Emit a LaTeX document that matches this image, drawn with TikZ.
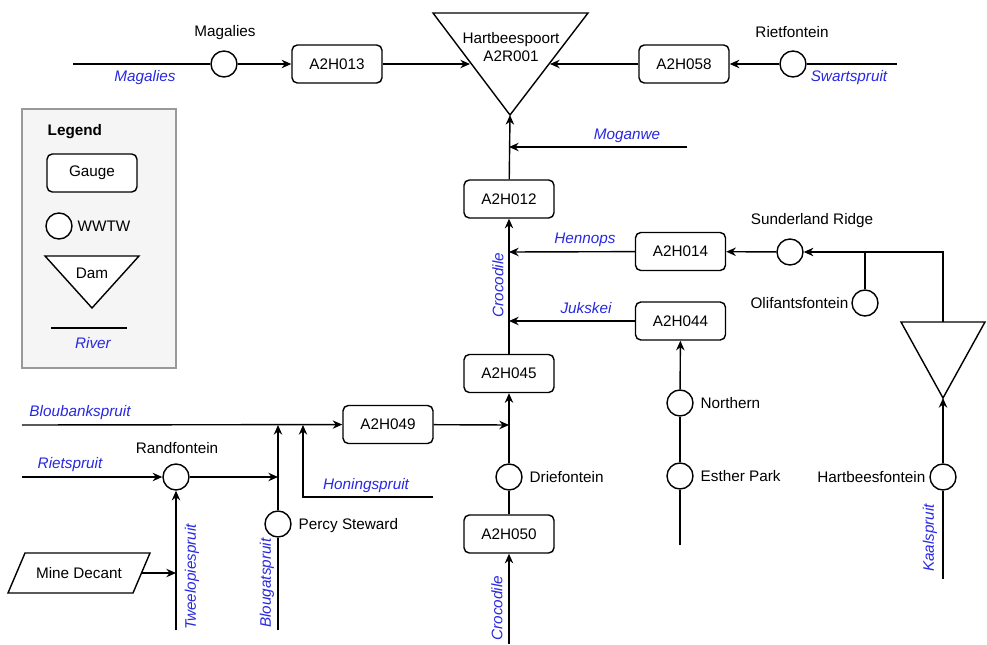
\documentclass[tikz,border=0pt]{standalone}
\usepackage{fontspec}
\setmainfont{Liberation Sans}
\usepackage{tikz}
\usetikzlibrary{arrows.meta}

\definecolor{rivblue}{RGB}{40,40,225}

\begin{document}
\begin{tikzpicture}[x=0.02cm, y=-0.02cm, line width=0.8pt,
	font=\fontsize{8.7}{10.2}\selectfont,
	>={Stealth[length=5.5pt,width=4.8pt]},
	gauge/.style={draw, rounded corners=3pt, fill=white, minimum width=1.8cm, minimum height=0.76cm, inner sep=0pt},
	wwtw/.style={draw, circle, fill=white, minimum size=0.52cm, inner sep=0pt},
	lbl/.style={inner sep=0pt},
	rivlbl/.style={inner sep=0pt, text=rivblue, font=\fontsize{8.7}{10.2}\selectfont\itshape}]
	\useasboundingbox (0,0) rectangle (987,645);

	% Legend
	\node[draw=gray!80, fill=gray!8, minimum width=3.08cm, minimum height=5.18cm, inner sep=0pt] (legendbox) at (99,238.5) {};
	\node[lbl, anchor=west, font=\fontsize{8.7}{10.2}\selectfont\bfseries] (legendtitle) at (47,132) {Legend};
	\node[gauge] (lgauge) at (92,173) {Gauge};
	\node[wwtw] (lwwtw) at (59,226) {};
	\node[lbl, anchor=west] (lwwtwlbl) at (77,226) {WWTW};
	\draw[fill=white] (45,256) coordinate (ldam-l) -- (139,256) coordinate (ldam-r) -- (92,308) coordinate (ldam-apex) -- cycle;
	\node[lbl] (ldamlbl) at (92,273) {Dam};
	\coordinate (lriv-a) at (51,328);
	\coordinate (lriv-b) at (127,328);
	\draw (lriv-a) -- (lriv-b);
	\node[rivlbl] (lrivlbl) at (93,343) {River};

	% Hartbeespoort dam
	\draw (433,13) coordinate (hbp-tl) -- (588,13) coordinate (hbp-tr) -- (510,115) coordinate (hbp-apex) -- cycle;
	\node[lbl, align=center] (hbp) at (511,47) {Hartbeespoort\\A2R001};
	\coordinate (hbp-w) at (470,64);
	\coordinate (hbp-e) at (550,64);

	% Magalies and Swartspruit
	\coordinate (mag-src) at (73,64);
	\node[wwtw] (magalies) at (224,64) {};
	\node[lbl] (magalieslbl) at (225,33) {Magalies};
	\node[rivlbl] (magaliesriv) at (145,78) {Magalies};
	\node[gauge] (A2H013) at (337,64) {A2H013};
	\draw (mag-src) -- (magalies);
	\draw[->] (magalies) -- (A2H013);
	\draw[->] (A2H013) -- (hbp-w);

	\coordinate (swart-src) at (897,64);
	\node[wwtw] (rietfontein) at (793,64) {};
	\node[lbl] (rietfonteinlbl) at (792,32) {Rietfontein};
	\node[rivlbl] (swartriv) at (849,78) {Swartspruit};
	\node[gauge] (A2H058) at (684,64) {A2H058};
	\draw (swart-src) -- (rietfontein);
	\draw[->] (rietfontein) -- (A2H058);
	\draw[->] (A2H058) -- (hbp-e);

	% Crocodile main stem
	\coordinate (croc-src) at (509,644);
	\node[gauge] (A2H050) at (509,534) {A2H050};
	\node[wwtw] (driefontein) at (509,477) {};
	\node[lbl, anchor=west] (driefonteinlbl) at (529,477) {Driefontein};
	\node[gauge] (A2H045) at (509,373.5) {A2H045};
	\node[gauge] (A2H012) at (509,199) {A2H012};
	\coordinate (j049) at (509,425);
	\coordinate (jjuk) at (509,321);
	\coordinate (jhen) at (509,252);
	\coordinate (jmog) at (509,147);
	\coordinate (mog-src) at (687,147);
	\draw[->] (croc-src) -- (A2H050);
	\draw (A2H050) -- (driefontein);
	\draw[->] (driefontein) -- (A2H045);
	\draw[->] (A2H045) -- (A2H012);
	\draw[->] (A2H012) -- (hbp-apex);
	\draw[->] (mog-src) -- (jmog);
	\node[rivlbl] (moganwe) at (627,136) {Moganwe};
	\node[rivlbl] (hennops) at (585,240) {Hennops};
	\node[rivlbl] (jukskei) at (586,308) {Jukskei};
	\node[rivlbl, rotate=90] (croc-up) at (498,285) {Crocodile};
	\node[rivlbl, rotate=90] (croc-dn) at (497,608) {Crocodile};

	% Hennops and Rietvlei dam
	\node[gauge] (A2H014) at (680.5,251.5) {A2H014};
	\node[wwtw] (sunderland) at (790,252) {};
	\node[lbl] (sunderlandlbl) at (812,221) {Sunderland Ridge};
	\coordinate (jsun) at (865,252);
	\node[wwtw] (olifants) at (865,303) {};
	\node[lbl, anchor=east] (olifantslbl) at (849,303) {Olifantsfontein};
	\draw (901,322) coordinate (rv-tl) -- (985,322) coordinate (rv-tr) -- (943,398) coordinate (rv-apex) -- cycle;
	\coordinate (rv-top) at (943,322);
	\node[wwtw] (hartbees) at (943,477) {};
	\node[lbl, anchor=east] (hartbeeslbl) at (926,477) {Hartbeesfontein};
	\coordinate (kaal-src) at (943,579);
	\node[rivlbl, rotate=90] (kaalspruit) at (930,538) {Kaalspruit};
	\draw (kaal-src) -- (hartbees);
	\draw[->] (hartbees) -- (rv-apex);
	\draw[->] (rv-top) |- (sunderland);
	\draw (olifants) -- (jsun);
	\draw[->] (sunderland) -- (A2H014);
	\draw[->] (A2H014) -- (jhen);

	% Jukskei
	\node[gauge] (A2H044) at (680.5,321) {A2H044};
	\node[wwtw] (northern) at (680,403) {};
	\node[lbl, anchor=west] (northernlbl) at (700,403) {Northern};
	\node[wwtw] (esther) at (680,476) {};
	\node[lbl, anchor=west] (estherlbl) at (700,476) {Esther Park};
	\coordinate (juk-src) at (680,545);
	\draw (juk-src) -- (esther);
	\draw (esther) -- (northern);
	\draw[->] (northern) -- (A2H044);
	\draw[->] (A2H044) -- (jjuk);

	% Bloubankspruit system
	\coordinate (blb-src) at (22,425);
	\coordinate (jblg) at (278,425);
	\coordinate (jhon) at (303,425);
	\node[gauge] (A2H049) at (388,424.5) {A2H049};
	\node[rivlbl] (bloubank) at (80,413) {Bloubankspruit};
	\draw[->] (blb-src) -- (A2H049);
	\draw[->] (A2H049) -- (j049);

	\coordinate (blg-src) at (278,630);
	\node[wwtw] (percy) at (278,524) {};
	\node[lbl, anchor=west] (percylbl) at (298,526) {Percy Steward};
	\node[rivlbl, rotate=90] (blougat) at (267,583) {Blougatspruit};
	\draw (blg-src) -- (percy);
	\draw[->] (percy) -- (jblg);

	\coordinate (hon-src) at (433,497);
	\node[rivlbl] (honing) at (366,486) {Honingspruit};
	\draw[->] (hon-src) -| (jhon);

	\coordinate (riet-src) at (22,477);
	\coordinate (jrand) at (278,477);
	\node[wwtw] (randfontein) at (176,477) {};
	\node[lbl] (randfonteinlbl) at (177,448) {Randfontein};
	\node[rivlbl] (rietspruit) at (70,465) {Rietspruit};
	\draw[->] (riet-src) -- (randfontein);
	\draw[->] (randfontein) -- (jrand);

	% Mine decant (parallelogram)
	\draw (8,593) -- (25,553) -- (150,553) coordinate (mine-tr) -- (133,593) -- cycle;
	\coordinate (mine-e) at (141.5,573);
	\node[lbl] (mine) at (79,573) {Mine Decant};
	\coordinate (twee-src) at (176,630);
	\coordinate (jmine) at (176,573);
	\node[rivlbl, rotate=90] (tweelopie) at (192,577) {Tweelopiespruit};
	\draw[->] (twee-src) -- (randfontein);
	\draw[->] (mine-e) -- (jmine);
\end{tikzpicture}
\end{document}
